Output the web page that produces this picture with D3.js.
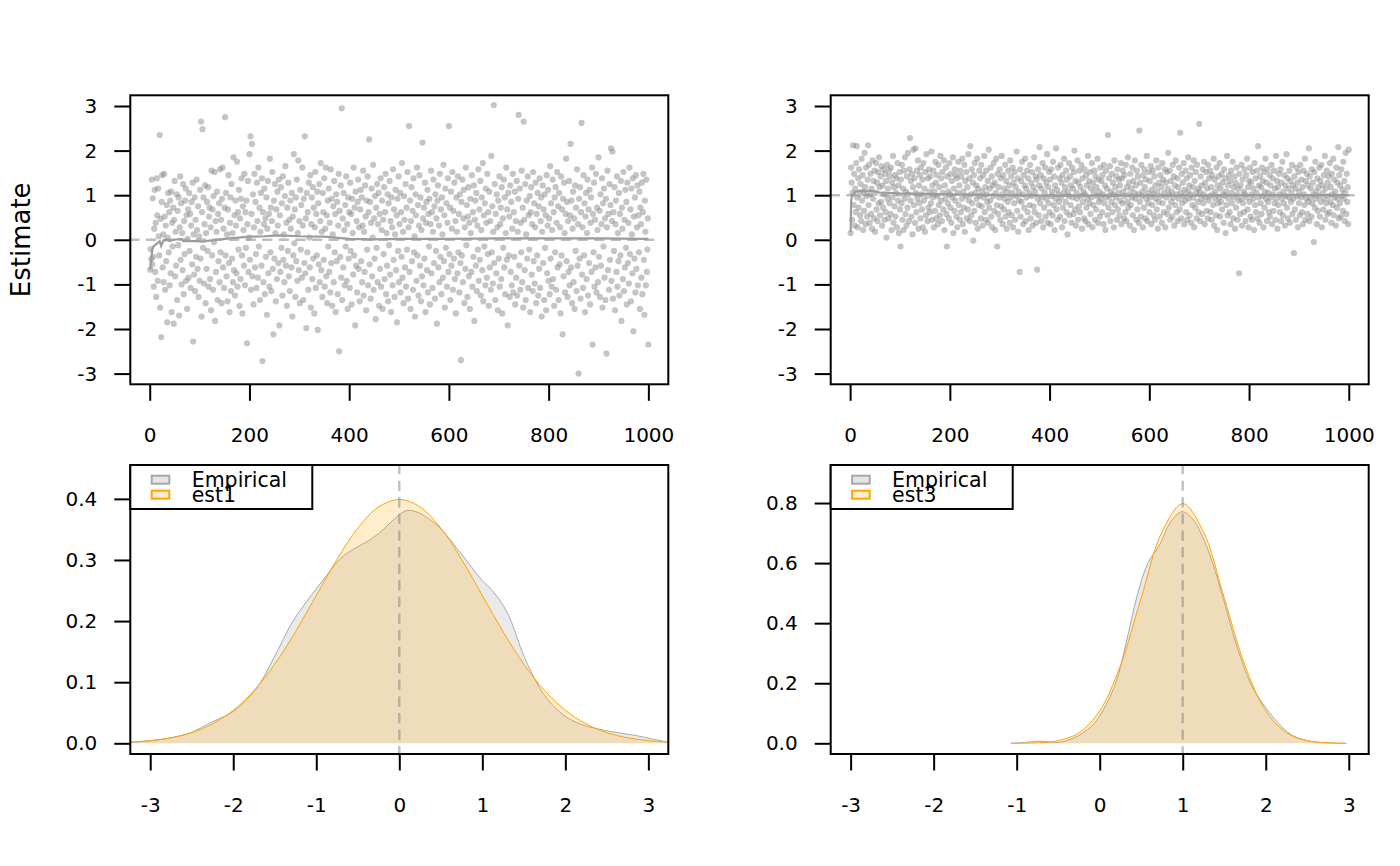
<!doctype html>
<html lang="en">
<head>
<meta charset="UTF-8">
<title>Estimates</title>
<script src="https://d3js.org/d3.v7.min.js"></script>
<style>
  body { margin: 0; background: #fff; }
  svg { display: block; }
  text { font-family: "DejaVu Sans", sans-serif; }
</style>
</head>
<body>
<svg width="1400" height="866"></svg>
<script>

// ---- data ----

// est1 estimates by replicate (x = replicate index 1..1000)
const est1Values = [
-0.67,-0.21,-0.43,1.35,-0.55,0.93,-0.38,-1.05,0.25,1.12,-0.72,0.38,-1.28,1.38,0.55,-0.92,1.15,0.08,-0.35,2.35,
-1.52,0.47,-2.18,0.85,1.45,-0.62,0.12,-0.95,1.48,0.52,-1.12,0.32,-0.48,0.78,-1.85,0.05,1.05,-0.28,0.62,-1.02,
0.88,-0.75,1.08,-1.62,0.38,-0.15,0.72,-1.88,0.45,1.32,-0.82,0.18,-0.58,1.02,-1.35,0.65,-0.12,0.95,-1.7,0.28,
1.42,-0.45,0.82,-1.0,0.15,-0.68,1.25,-1.22,0.42,-0.32,0.88,1.15,-0.92,0.55,-1.55,0.02,0.68,-0.85,1.05,-0.25,
0.58,-1.08,0.32,0.85,-0.55,1.28,-2.28,0.12,-0.78,0.95,-1.15,0.45,-0.38,1.35,0.22,-0.65,0.75,-1.28,0.08,-0.92,
1.12,-0.42,2.65,-1.72,0.62,2.48,-0.18,0.95,-0.98,0.35,1.22,-1.42,0.15,-0.65,0.85,-0.25,1.18,-1.05,0.52,0.72,
-0.88,0.28,-1.58,1.55,-0.35,0.68,-1.12,0.98,-0.05,1.52,-1.82,0.42,-0.72,0.18,1.08,-1.35,0.58,-0.48,0.82,-0.95,
1.58,-0.28,0.45,-1.42,0.92,1.62,-0.62,0.25,-1.08,0.72,2.75,-0.35,1.05,-0.82,0.12,-1.38,0.68,1.45,-0.52,-1.62,
0.38,0.95,-1.15,1.25,-0.42,0.15,-0.95,1.85,-0.68,0.55,-1.25,0.88,0.32,-0.75,1.75,-1.05,0.62,-0.22,1.12,-1.48,
0.48,-0.88,0.92,1.38,-0.35,-1.65,0.75,0.22,-0.58,1.48,-1.02,0.62,-0.18,0.88,-2.32,0.35,1.32,-0.72,0.05,1.92,
-0.45,2.32,-1.12,0.58,2.15,-0.82,1.02,-1.45,0.28,1.48,-0.62,0.85,-0.32,-1.08,1.28,0.42,-0.85,1.62,-0.15,0.72,
-1.35,0.18,1.05,-0.58,1.38,-2.72,0.62,-0.95,0.35,1.15,-1.22,0.48,-0.38,0.95,-1.68,0.25,1.32,-0.75,0.58,-1.05,
1.82,-0.28,0.72,-1.15,0.42,1.52,-0.65,-2.12,0.88,-0.42,1.25,0.15,-1.38,0.68,-0.88,1.08,0.32,-0.52,1.35,-1.92,
0.55,-0.72,1.18,-0.18,0.82,-1.25,1.42,-0.45,0.12,-0.95,0.98,1.65,-0.58,0.38,-1.48,0.72,-0.25,1.28,-0.82,0.45,
-1.15,0.88,0.25,-0.62,1.05,-1.72,0.52,-0.35,1.92,-0.08,0.68,-1.28,0.95,-0.48,1.35,-0.92,0.15,1.78,-0.68,0.42,
-1.42,1.12,-0.22,0.78,-0.85,1.62,0.32,-1.35,0.92,-0.52,2.32,-0.75,0.48,-1.98,1.05,-0.28,0.62,-1.12,1.28,0.05,
-0.62,1.45,-1.52,0.35,0.95,-0.88,1.18,-0.42,0.72,-1.65,0.28,1.52,-1.08,0.58,-0.35,1.08,-2.02,0.82,-0.55,1.25,
-0.95,0.42,1.72,-0.68,0.18,-1.28,1.05,0.62,-0.45,1.38,-1.05,0.25,1.62,-0.82,0.55,-1.42,0.88,-0.15,1.15,-0.72,
0.38,-1.18,1.58,-0.52,0.92,-1.48,0.12,0.75,-0.95,1.32,-0.28,0.58,-1.62,1.02,-0.48,0.85,-1.22,0.32,1.48,-2.5,
0.65,-0.38,1.22,-0.85,2.95,-1.35,0.48,-0.62,1.05,0.22,-1.02,0.78,-0.15,1.42,-0.92,0.35,-1.55,0.95,-0.42,0.62,
-1.08,1.28,-0.25,0.58,-1.45,0.92,0.15,-0.78,1.62,-0.35,0.72,-1.92,1.08,-0.58,0.42,-1.18,0.85,1.35,-0.65,0.28,
-1.38,0.68,1.12,-0.48,0.95,-0.95,0.32,1.55,-1.25,0.18,-0.72,1.22,0.52,-1.58,0.88,-0.22,1.42,-1.02,0.62,2.25,
-0.55,0.85,-1.32,0.38,1.15,-0.82,0.05,1.68,-1.12,0.48,-0.42,0.98,-1.78,0.72,-0.18,1.25,-0.95,0.35,1.05,-1.48,
0.58,-0.65,1.38,-1.05,0.22,0.88,-1.55,0.45,-0.32,1.18,-0.88,0.62,1.48,-1.22,0.15,-0.58,1.02,-1.38,0.82,-0.12,
1.32,-0.78,0.42,-1.62,0.95,0.28,-1.02,1.58,-0.45,0.68,-1.28,0.12,1.12,-0.68,0.55,-1.85,0.92,-0.25,1.42,-0.95,
0.35,1.05,-1.18,0.62,-0.38,1.72,-0.85,0.18,-1.42,0.98,0.45,-0.62,1.25,-1.05,0.72,-0.22,1.52,-1.32,0.28,2.55,
-0.72,0.88,-1.55,0.42,1.18,-0.48,0.65,-1.12,1.38,-0.28,0.08,-1.72,1.02,0.55,-0.92,1.62,-0.35,0.78,-1.25,0.32,
1.45,-0.58,0.95,-1.38,0.22,-0.82,2.18,0.48,-1.02,0.72,-0.42,1.28,-1.62,0.38,0.85,-0.68,1.12,-1.18,0.58,-0.15,
0.92,-1.45,0.35,1.55,-0.75,0.62,-1.08,0.18,1.35,-0.52,0.75,-1.32,1.02,-0.25,0.48,-1.88,0.88,1.22,-0.62,0.32,
-0.95,1.48,-0.38,0.68,-1.22,0.95,0.12,-0.85,1.68,-0.48,0.55,-1.52,1.15,-0.18,0.82,-1.05,0.38,1.38,-0.72,2.55,
-0.32,0.72,-1.35,1.08,-0.58,0.25,1.52,-1.12,0.65,-0.42,1.28,-0.88,0.42,-1.65,0.95,0.18,-0.75,1.42,-0.28,0.58,
-1.18,1.02,-0.52,-2.7,0.85,-0.35,1.35,-0.95,0.48,1.12,-1.42,0.28,-0.65,1.62,-0.12,0.78,-1.28,0.52,1.18,-0.82,
0.38,-1.55,0.92,0.15,-0.72,1.45,-1.05,0.62,-0.38,1.22,-1.82,0.45,0.88,-0.58,1.05,-1.15,0.32,-0.22,1.58,-0.92,
0.68,-0.45,1.32,-1.25,0.22,0.95,-0.68,1.72,-1.38,0.55,-0.15,0.82,-1.02,1.15,0.38,-0.85,1.48,-0.32,0.62,-1.48,
1.08,-0.62,0.42,-1.12,1.88,-0.28,0.75,-0.98,0.18,3.02,-0.52,1.25,-1.35,0.58,-0.75,1.02,0.28,-1.58,0.88,-0.42,
1.42,-1.05,0.35,0.72,-0.88,1.18,-1.65,0.48,-0.18,1.35,-0.62,0.95,-1.22,0.15,1.62,-0.45,0.68,-1.92,1.05,-0.35,
0.52,-1.28,1.22,-0.72,0.85,-1.02,0.25,1.48,-1.18,0.62,-0.38,1.08,-1.45,0.42,-0.85,1.32,-1.25,0.18,0.92,2.8,
-0.58,1.15,-1.12,0.38,-0.28,1.55,-0.95,0.72,-1.52,2.65,0.45,-0.68,1.25,-1.35,0.12,0.88,-0.42,1.42,-1.08,0.55,
-0.22,0.98,-1.62,0.62,1.18,-0.78,0.35,-1.15,1.52,-0.48,0.82,-0.98,0.28,1.28,-1.42,0.58,-0.35,1.05,-1.25,0.75,
-0.65,1.38,-1.08,0.42,0.95,-1.72,0.18,1.22,-0.52,0.68,-1.35,1.02,-0.18,0.55,-1.58,1.45,-0.75,0.32,1.12,-0.92,
0.48,-1.22,1.65,-0.42,0.82,-1.05,0.22,1.35,-0.88,0.62,-1.48,0.95,-0.28,1.18,-1.12,0.38,1.52,-0.62,0.75,-1.35,
1.05,-0.55,0.28,-1.65,1.42,-0.35,0.68,-2.12,0.92,-0.82,1.28,0.15,-1.18,0.58,1.82,-0.48,0.85,-1.28,0.42,-0.72,
1.32,-1.02,0.55,2.15,-0.62,0.88,-1.42,0.25,1.08,-0.95,0.48,-1.55,1.22,-0.25,0.72,-1.15,1.58,-0.58,0.35,-3.0,
0.92,-0.42,1.18,-1.32,0.62,2.62,-0.78,0.28,-1.08,1.45,-0.35,0.82,-1.62,0.52,1.05,-0.88,0.15,1.35,-1.25,0.68,
-0.52,1.12,-1.45,0.38,0.95,-0.72,1.62,-2.35,0.58,-0.28,1.28,-1.05,0.45,-0.62,1.48,-1.18,0.72,0.22,-0.95,1.85,
-0.38,0.65,-1.28,1.02,-0.58,0.35,1.38,-1.52,0.82,-0.15,1.15,-0.85,0.48,-1.35,0.92,-2.55,0.28,1.55,-0.68,0.58,
-1.12,1.25,-0.45,0.78,2.05,-0.92,0.42,1.98,-1.32,0.62,-0.25,1.18,-1.58,0.35,0.88,-0.72,1.42,-1.05,0.15,-0.48,
1.05,-1.25,0.58,-0.35,1.32,-1.82,0.72,0.25,-0.88,1.52,-1.15,0.45,-0.62,1.12,-0.18,0.85,-1.45,1.28,-0.52,0.38,
-0.98,1.62,-0.32,0.68,-1.38,1.15,0.12,-0.75,1.38,-2.05,0.52,-0.42,0.95,-1.18,1.45,-0.65,0.28,1.22,-1.02,0.55,
-0.28,1.08,-1.55,0.72,0.35,-0.85,1.28,-1.22,0.62,1.48,-0.45,-1.68,0.88,0.18,-1.02,1.35,-0.72,-0.22,0.48,-2.35
];

// est3 estimates by replicate
const est3Values = [
0.15,1.62,1.28,0.45,1.05,2.12,0.78,1.48,0.32,1.15,0.62,1.72,2.1,0.95,0.28,1.38,0.72,1.58,1.02,0.55,
1.25,0.42,1.82,0.88,1.45,0.22,1.08,0.65,1.95,1.18,0.35,1.62,0.98,0.52,1.35,2.12,0.78,1.68,0.38,1.02,
1.48,0.58,1.15,0.25,1.78,0.92,1.32,0.48,1.55,0.18,1.05,1.72,0.68,1.28,0.42,1.52,0.82,1.85,1.18,0.55,
1.42,0.85,1.65,0.32,1.22,0.72,1.58,1.02,0.45,1.48,0.62,1.32,0.05,1.68,0.92,1.15,0.48,1.55,0.82,1.42,
0.58,1.62,0.22,1.28,0.95,1.88,0.38,1.18,0.75,1.45,0.52,1.05,1.38,0.28,1.72,0.88,1.22,0.15,1.52,0.68,
-0.15,1.35,0.82,1.68,0.45,1.15,0.22,1.55,0.92,1.85,0.58,1.08,0.32,1.42,0.72,1.95,1.02,0.42,1.58,2.28,
0.88,1.32,0.52,1.48,0.12,1.18,2.02,0.78,1.38,0.38,2.05,1.05,0.62,1.55,0.92,1.78,0.25,1.22,0.82,1.45,
0.48,1.62,1.02,0.68,1.35,0.28,1.72,0.88,1.15,0.18,1.52,0.55,1.92,0.98,0.42,1.38,0.72,1.58,1.08,0.62,
1.42,0.82,1.98,0.45,1.22,0.95,1.55,0.28,1.08,0.65,1.75,1.28,0.48,1.45,0.98,0.35,1.68,0.78,1.18,0.55,
1.88,0.88,1.38,0.42,1.52,1.05,0.68,1.78,0.22,1.22,0.92,1.62,0.58,-0.15,1.42,0.82,1.08,0.48,1.72,1.02,
0.72,1.48,0.38,1.32,0.95,1.85,0.15,1.15,0.65,1.58,0.88,1.45,0.52,1.38,0.28,1.05,1.75,0.78,1.22,0.45,
1.55,0.62,1.42,0.92,1.82,0.35,1.08,0.72,1.68,0.18,1.32,0.98,1.52,0.48,1.18,0.68,1.92,0.88,1.38,0.42,
2.1,1.02,0.55,1.58,0.82,1.28,-0.02,1.45,0.65,1.72,1.05,0.38,1.22,0.92,1.82,0.25,1.15,0.78,1.55,0.98,
1.38,0.48,1.68,0.75,1.08,0.32,1.45,0.95,1.88,0.62,1.18,0.45,1.55,1.02,0.85,1.32,0.38,2.02,0.72,1.15,
0.88,1.62,0.52,1.42,0.28,1.22,0.98,1.72,0.65,1.28,0.22,1.05,1.82,0.78,-0.15,1.48,0.58,1.18,0.95,1.58,
0.45,1.38,0.75,1.88,1.02,0.35,1.45,0.68,1.15,0.92,1.68,0.52,1.32,0.25,1.08,0.85,1.55,0.62,1.22,0.38,
1.78,0.95,1.42,0.55,1.05,1.62,0.28,1.28,0.82,1.52,0.45,1.18,0.98,1.98,0.65,1.38,0.18,1.08,0.88,-0.72,
1.58,0.52,1.32,0.85,1.75,1.02,0.35,1.45,0.72,1.22,1.82,0.42,1.15,0.95,1.55,0.62,1.38,0.22,1.05,0.78,
1.68,0.48,1.28,0.98,1.52,0.32,1.18,0.75,1.85,0.62,1.08,1.42,0.38,1.35,-0.67,0.92,1.58,0.55,1.22,2.08,
0.82,1.45,0.42,1.15,0.95,1.72,0.28,1.38,0.72,1.05,1.62,0.52,1.28,0.92,1.92,0.38,1.18,0.82,1.52,0.62,
1.35,0.35,1.58,0.98,1.08,0.55,1.75,0.78,1.42,0.22,1.22,0.92,2.05,0.68,1.12,0.45,1.62,1.02,0.85,1.38,
0.52,1.68,0.95,1.28,0.28,1.45,0.72,1.05,1.82,0.42,1.18,0.85,1.55,0.62,1.35,0.12,1.08,0.98,1.72,0.55,
1.42,0.78,1.22,0.38,1.62,0.95,1.15,0.58,1.52,2.0,0.68,1.32,0.32,1.05,0.92,1.78,0.45,1.28,0.75,1.55,
0.62,1.18,0.98,1.68,0.25,1.38,0.85,1.08,0.48,1.58,1.02,0.42,1.45,0.72,1.22,0.92,1.88,0.35,1.32,0.82,
1.52,0.58,1.15,0.95,1.72,0.28,1.28,0.78,1.05,1.55,0.45,1.42,0.68,1.18,0.98,1.82,0.38,1.35,0.85,1.08,
0.52,1.62,0.92,1.32,0.62,1.45,1.02,0.35,1.68,0.82,1.22,0.22,1.55,0.95,1.15,0.55,2.35,0.72,1.38,0.98,
1.65,0.42,1.08,0.85,1.48,0.62,1.28,1.02,0.28,1.78,0.78,1.18,0.95,1.42,0.45,1.58,0.68,1.05,1.35,0.55,
1.22,0.88,1.72,0.35,1.38,0.82,1.55,1.08,0.48,1.45,0.98,0.62,1.68,0.42,1.18,0.85,1.85,0.72,1.28,1.02,
0.32,1.48,0.78,1.15,0.95,1.62,0.55,1.32,0.22,1.05,1.78,0.92,1.22,0.45,1.55,0.68,1.42,1.02,0.38,2.45,
0.85,1.28,0.52,1.68,0.98,1.08,0.28,1.45,0.72,1.58,1.18,0.48,1.35,0.92,1.88,0.42,1.05,0.82,1.52,0.62,
1.32,0.95,1.65,0.35,1.12,0.78,1.55,1.02,0.55,1.42,0.45,1.22,0.92,1.78,0.68,1.08,0.25,1.62,0.85,1.28,
0.52,1.45,0.98,1.18,0.38,1.72,0.82,1.35,0.62,1.05,1.58,0.28,1.28,0.95,1.52,0.58,1.15,1.95,0.72,1.02,
1.55,0.45,1.32,0.85,1.08,0.52,1.68,0.95,1.42,0.32,1.22,0.78,1.78,1.02,0.62,1.38,0.42,1.18,0.92,1.62,
0.68,2.4,1.05,0.48,1.48,0.82,1.28,0.98,1.72,0.35,1.12,0.88,1.55,0.62,1.38,0.45,1.08,1.85,0.92,1.22,
0.55,1.45,1.02,0.38,1.62,0.78,1.18,0.95,1.78,0.28,1.32,0.72,1.52,1.05,0.48,1.68,0.85,1.15,0.62,2.6,
1.08,0.42,1.42,0.92,1.22,0.58,1.58,0.82,1.02,1.75,0.35,1.28,0.95,1.52,0.65,1.15,0.48,1.68,0.88,1.38,
0.98,1.55,0.62,1.18,0.45,1.45,1.02,0.78,1.82,0.32,1.35,0.92,1.08,0.55,1.62,0.22,1.22,0.82,1.42,0.95,
1.72,0.52,1.15,0.85,1.48,0.68,1.28,1.02,0.38,1.58,0.98,1.38,0.15,1.08,0.78,1.88,0.55,1.22,0.92,1.45,
0.62,1.32,0.35,1.55,1.05,0.82,1.75,0.48,1.18,0.95,1.42,0.25,1.28,0.72,1.62,1.02,0.45,1.15,0.88,-0.75,
1.48,0.58,1.22,0.92,1.68,0.32,1.35,0.82,1.08,0.62,1.58,1.02,0.42,1.45,0.95,1.82,0.68,1.18,0.28,1.32,
0.85,1.62,0.52,1.28,1.02,0.45,1.52,0.92,1.15,0.22,1.72,0.78,1.38,0.62,1.05,1.55,0.48,2.1,0.95,1.22,
0.38,1.42,0.82,1.18,0.58,1.62,0.98,1.32,0.28,1.52,0.72,1.08,1.82,0.92,1.28,0.42,1.58,0.85,1.05,0.62,
1.45,0.52,1.22,0.95,1.68,0.35,1.38,1.02,0.65,1.55,0.82,1.15,0.45,1.88,0.92,1.32,0.25,1.18,0.78,1.48,
1.02,0.62,1.58,0.42,1.28,0.92,1.75,0.55,1.08,0.82,1.45,0.32,1.22,0.98,1.92,0.72,1.38,0.48,1.15,0.95,
1.55,0.38,1.32,0.85,1.05,1.68,0.58,1.22,0.92,-0.3,1.42,0.68,1.15,0.45,1.62,0.98,1.28,0.28,1.52,0.82,
1.08,0.55,1.68,0.95,1.35,0.62,1.18,0.35,1.55,1.02,0.78,1.82,0.45,1.32,0.92,1.48,0.58,1.22,0.85,2.05,
0.42,1.42,0.95,1.15,0.52,1.58,0.82,1.28,1.02,-0.05,1.52,0.72,1.75,0.92,1.08,0.35,1.38,0.65,1.18,0.98,
1.62,0.52,1.32,0.85,1.68,0.28,1.22,1.05,0.68,1.45,0.92,1.88,0.45,1.15,0.82,1.55,0.58,1.28,0.98,1.42,
0.62,1.72,0.85,1.18,0.38,1.48,1.02,0.78,1.82,0.55,1.35,0.95,1.08,0.32,1.62,0.72,1.28,0.92,2.08,0.48,
1.45,0.82,1.22,0.52,1.58,0.98,1.12,0.65,1.75,0.92,1.32,0.42,1.05,1.95,0.58,1.48,0.85,1.18,0.35,2.02
];

// running mean of the estimates (replicate, value)
const est1RunIdx  = [1, 3, 5, 8, 13, 20, 23, 27, 33, 40, 47, 64, 67, 80, 94, 107, 120, 160, 200, 230, 260, 300, 350, 400, 450, 500, 600, 700, 800, 900, 1000];
const est1RunMean = [-0.67, -0.44, -0.22, -0.14, -0.1, -0.03, -0.14, -0.03, 0.0, -0.03, 0.0, 0.02, -0.03, -0.03, -0.03, -0.04, -0.02, 0.03, 0.07, 0.08, 0.1, 0.08, 0.07, 0.02, 0.01, 0.02, 0.02, 0.03, 0.03, 0.03, 0.02];
const est3RunIdx  = [1, 2, 3, 5, 8, 12, 20, 30, 40, 60, 100, 150, 200, 300, 400, 500, 600, 700, 800, 900, 1000];
const est3RunMean = [0.17, 0.85, 0.95, 1.0, 1.05, 1.08, 1.1, 1.08, 1.1, 1.06, 1.04, 1.03, 1.02, 1.0, 0.99, 0.99, 0.99, 0.99, 1.0, 1.0, 1.0];

// true parameter values
const trueValues = [0, 1];

// densities: empirical and fitted (x, density)
const emp1X = [-3.24, -3.0, -2.72, -2.5, -2.27, -2.0, -1.73, -1.51, -1.29, -1.11, -0.93, -0.71, -0.55, -0.4, -0.25, -0.1, 0.0, 0.09, 0.2, 0.35, 0.5, 0.7, 0.85, 1.0, 1.12, 1.3, 1.48, 1.57, 1.74, 1.97, 2.19, 2.41, 2.65, 2.86, 3.05, 3.24];
const emp1Y = [0.0015, 0.004, 0.0098, 0.018, 0.034, 0.052, 0.088, 0.14, 0.198, 0.233, 0.265, 0.302, 0.318, 0.329, 0.343, 0.362, 0.374, 0.381, 0.379, 0.368, 0.351, 0.318, 0.292, 0.266, 0.25, 0.214, 0.15, 0.122, 0.08, 0.047, 0.031, 0.023, 0.017, 0.0125, 0.007, 0.0016];
const fit1X = [-3.24, -3.0, -2.75, -2.5, -2.25, -2.0, -1.75, -1.5, -1.25, -1.0, -0.75, -0.5, -0.25, 0.0, 0.25, 0.5, 0.75, 1.0, 1.25, 1.5, 1.75, 2.0, 2.25, 2.5, 2.75, 3.0, 3.24];
const fit1Y = [0.0021, 0.0044, 0.0091, 0.0175, 0.0317, 0.054, 0.0863, 0.1295, 0.1826, 0.242, 0.3011, 0.3521, 0.3867, 0.3989, 0.3867, 0.3521, 0.3011, 0.242, 0.1826, 0.1295, 0.0863, 0.054, 0.0317, 0.0175, 0.0091, 0.0044, 0.0021];

const emp3X = [-1.07, -0.9, -0.75, -0.6, -0.49, -0.31, -0.15, -0.04, 0.18, 0.32, 0.45, 0.58, 0.72, 0.85, 0.99, 1.12, 1.3, 1.48, 1.65, 1.83, 2.01, 2.15, 2.3, 2.45, 2.64, 2.97];
const emp3Y = [0.0, 0.003, 0.007, 0.005, 0.003, 0.018, 0.045, 0.075, 0.19, 0.336, 0.49, 0.6, 0.66, 0.735, 0.771, 0.747, 0.647, 0.49, 0.325, 0.192, 0.115, 0.068, 0.03, 0.012, 0.003, 0.0];
const fit3X = [-1.07, -0.75, -0.5, -0.25, 0.0, 0.25, 0.5, 0.75, 1.0, 1.25, 1.5, 1.75, 2.0, 2.25, 2.5, 2.75, 2.97];
const fit3Y = [0.0002, 0.0017, 0.0089, 0.035, 0.108, 0.259, 0.484, 0.704, 0.798, 0.704, 0.484, 0.259, 0.108, 0.035, 0.0089, 0.0017, 0.0003];

const legendLabels = [["Empirical", "est1"], ["Empirical", "est3"]];
const traceXTicks = [0, 200, 400, 600, 800, 1000];
const traceYTicks = [-3, -2, -1, 0, 1, 2, 3];
const densXTicks = [-3, -2, -1, 0, 1, 2, 3];
const densYTicks = [[0, 0.1, 0.2, 0.3, 0.4], [0, 0.2, 0.4, 0.6, 0.8]];
const densYMax = [0.4379, 0.891];

// ---- layout ----
const svg = d3.select("svg");
const colLeft = [130.3, 830.7];
const colWidth = 538;
const rowTop = [95.3, 465];
const rowHeight = 289;

const pointFill = "rgba(140,140,140,0.5)";
const lineGray = "#9c9c9c";
const dashGray = "#bdbdbd";
const empFill = "rgba(190,190,190,0.32)";
const empStroke = "#a8a8a8";
const fitFill = "rgba(255,165,0,0.2)";
const fitStroke = "#ffa500";
// plain hyphen for negatives, like the original
const intFmt = d => String(d);
const decFmt = d => d.toFixed(1);

function styleAxis(g) {
  g.select(".domain").remove();
  g.selectAll(".tick line").attr("stroke", "#000").attr("stroke-width", 2);
  g.selectAll(".tick text")
    .attr("fill", "#000")
    .style("font-size", "20px")
    .style("font-family", "'DejaVu Sans', sans-serif");
}

function frame(g, w, h) {
  g.append("rect")
    .attr("width", w).attr("height", h)
    .attr("fill", "none").attr("stroke", "#000").attr("stroke-width", 2);
}

function tracePanel(col, values, runIdx, runMean, truth) {
  const g = svg.append("g").attr("transform", `translate(${colLeft[col]},${rowTop[0]})`);
  const x = d3.scaleLinear().domain([1 - 0.04 * 999, 1000 + 0.04 * 999]).range([0, colWidth]);
  const y = d3.scaleLinear().domain([-3.24, 3.24]).range([rowHeight, 0]);

  g.append("line")
    .attr("x1", 0).attr("x2", x(1022))
    .attr("y1", y(truth)).attr("y2", y(truth))
    .attr("stroke", dashGray).attr("stroke-width", 2.4)
    .attr("stroke-dasharray", "8.3 8.3").attr("stroke-linecap", "round");

  g.append("g").selectAll("circle")
    .data(values)
    .join("circle")
      .attr("cx", (d, i) => x(i + 1))
      .attr("cy", d => y(d))
      .attr("r", 3.1)
      .attr("fill", pointFill);

  const run = runIdx.map((d, i) => [d, runMean[i]]);
  g.append("path")
    .datum(run)
    .attr("fill", "none")
    .attr("stroke", lineGray)
    .attr("stroke-width", 2.2)
    .attr("d", d3.line().x(d => x(d[0])).y(d => y(d[1])));

  frame(g, colWidth, rowHeight);

  g.append("g")
    .attr("transform", `translate(0,${rowHeight})`)
    .call(d3.axisBottom(x).tickValues(traceXTicks).tickFormat(intFmt).tickSize(16.5).tickPadding(27))
    .call(styleAxis);
  g.append("g")
    .call(d3.axisLeft(y).tickValues(traceYTicks).tickFormat(intFmt).tickSize(16).tickPadding(17))
    .call(styleAxis);
}

function densityPanel(col, empX, empY, fitX, fitY, truth, yTicks, yMax, labels) {
  const g = svg.append("g").attr("transform", `translate(${colLeft[col]},${rowTop[1]})`);
  const x = d3.scaleLinear().domain([-3.24, 3.24]).range([0, colWidth]);
  const y = d3.scaleLinear().domain([-0.04 * yMax, 1.04 * yMax]).range([rowHeight, 0]);

  const clipId = "clip" + col;
  g.append("clipPath").attr("id", clipId)
    .append("rect").attr("width", colWidth).attr("height", rowHeight);

  const area = d3.area()
    .curve(d3.curveCatmullRom.alpha(0.5))
    .x(d => x(d[0])).y0(y(0)).y1(d => y(d[1]));
  const line = d3.line()
    .curve(d3.curveCatmullRom.alpha(0.5))
    .x(d => x(d[0])).y(d => y(d[1]));

  const emp = empX.map((d, i) => [d, empY[i]]);
  const fit = fitX.map((d, i) => [d, fitY[i]]);

  const plot = g.append("g").attr("clip-path", `url(#${clipId})`);
  plot.append("path").datum(emp).attr("d", area).attr("fill", empFill);
  plot.append("path").datum(emp).attr("d", line).attr("fill", "none")
    .attr("stroke", empStroke).attr("stroke-width", 1);
  plot.append("path").datum(fit).attr("d", area).attr("fill", fitFill);
  plot.append("path").datum(fit).attr("d", line).attr("fill", "none")
    .attr("stroke", fitStroke).attr("stroke-width", 1);

  g.append("line")
    .attr("x1", x(truth)).attr("x2", x(truth))
    .attr("y1", 0).attr("y2", rowHeight)
    .attr("stroke", "rgba(128,128,128,0.5)").attr("stroke-width", 2.4)
    .attr("stroke-dasharray", "8.3 8.3").attr("stroke-linecap", "round");

  frame(g, colWidth, rowHeight);

  g.append("g")
    .attr("transform", `translate(0,${rowHeight})`)
    .call(d3.axisBottom(x).tickValues(densXTicks).tickFormat(intFmt).tickSize(16.5).tickPadding(27))
    .call(styleAxis);
  g.append("g")
    .call(d3.axisLeft(y).tickValues(yTicks).tickFormat(decFmt).tickSize(16).tickPadding(17))
    .call(styleAxis);

  // legend (entries sit tight together, as in the original)
  const lg = g.append("g");
  lg.append("rect")
    .attr("width", 182).attr("height", 44)
    .attr("fill", "#fff").attr("stroke", "#000").attr("stroke-width", 2);
  const sw = [["#e6e6e6", empStroke], ["#ffedcc", fitStroke]];
  labels.forEach((lab, i) => {
    lg.append("rect")
      .attr("x", 21.4).attr("y", 10.7 + i * 15)
      .attr("width", 17.6).attr("height", 8)
      .attr("fill", sw[i][0])
      .attr("stroke", sw[i][1]).attr("stroke-width", 2);
    lg.append("text")
      .attr("x", 61.4).attr("y", 21.7 + i * 15)
      .style("font-size", "20.5px")
      .text(lab);
  });
}

tracePanel(0, est1Values, est1RunIdx, est1RunMean, trueValues[0]);
tracePanel(1, est3Values, est3RunIdx, est3RunMean, trueValues[1]);
densityPanel(0, emp1X, emp1Y, fit1X, fit1Y, trueValues[0], densYTicks[0], densYMax[0], legendLabels[0]);
densityPanel(1, emp3X, emp3Y, fit3X, fit3Y, trueValues[1], densYTicks[1], densYMax[1], legendLabels[1]);

svg.append("text")
  .attr("transform", `translate(21,${rowTop[0] + rowHeight / 2}) rotate(-90)`)
  .attr("text-anchor", "middle")
  .attr("dominant-baseline", "central")
  .style("font-size", "26px")
  .text("Estimate");

</script>
</body>
</html>
